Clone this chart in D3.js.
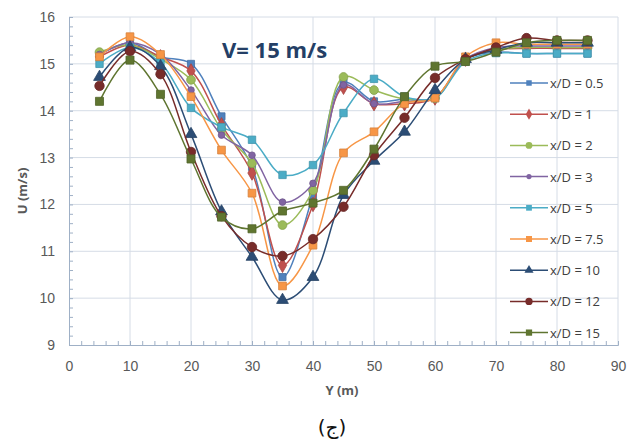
<!DOCTYPE html>
<html>
<head>
<meta charset="utf-8">
<script src="https://cdn.jsdelivr.net/npm/d3@7"></script>
<style>
	body { margin: 0; background: #fff; }
	svg { display: block; font-family: "Open Sans", "DejaVu Sans", sans-serif; }
</style>
</head>
<body>
<svg id="chart" width="629" height="445"></svg>
<script>
// distance across the channel (m)
var yPos = [5, 10, 15, 20, 25, 30, 35, 40, 45, 50, 55, 60, 65, 70, 75, 80, 85]

var seriesNames = ['x/D = 0.5', 'x/D = 1', 'x/D = 2', 'x/D = 3', 'x/D = 5',
	'x/D = 7.5', 'x/D = 10', 'x/D = 12', 'x/D = 15']

var u05 = [15.2, 15.45, 15.15, 15.0, 13.88, 12.8, 10.45, 12.2, 14.6, 14.2, 14.25, 14.27, 15.1, 15.25, 15.22, 15.22, 15.22]
var u1 = [15.15, 15.4, 15.15, 14.85, 13.7, 12.67, 10.7, 12.0, 14.5, 14.15, 14.15, 14.27, 15.1, 15.3, 15.33, 15.33, 15.33]
var u2 = [15.25, 15.4, 15.1, 14.66, 13.6, 12.88, 11.56, 12.3, 14.72, 14.44, 14.25, 14.27, 15.1, 15.3, 15.35, 15.35, 15.35]
var u3 = [15.2, 15.45, 15.2, 14.44, 13.48, 13.05, 12.05, 12.45, 14.55, 14.15, 14.2, 14.27, 15.1, 15.35, 15.38, 15.38, 15.38]
var u5 = [15.0, 15.35, 15.02, 14.06, 13.65, 13.38, 12.63, 12.84, 13.95, 14.68, 14.3, 14.27, 15.05, 15.23, 15.22, 15.22, 15.22]
var u75 = [15.15, 15.58, 15.2, 14.3, 13.16, 12.24, 10.26, 11.13, 13.1, 13.55, 14.15, 14.27, 15.15, 15.45, 15.42, 15.42, 15.42]
var u10 = [14.72, 15.35, 14.95, 13.5, 11.85, 10.88, 9.96, 10.45, 12.2, 12.93, 13.55, 14.44, 15.1, 15.3, 15.45, 15.45, 15.45]
var u12 = [14.53, 15.27, 14.78, 13.12, 11.75, 11.09, 10.9, 11.26, 11.95, 13.05, 13.85, 14.7, 15.1, 15.35, 15.55, 15.5, 15.5]
var u15 = [14.2, 15.08, 14.35, 12.97, 11.73, 11.48, 11.86, 12.03, 12.3, 13.18, 14.3, 14.95, 15.05, 15.25, 15.45, 15.5, 15.5]

var xTicks = [0, 10, 20, 30, 40, 50, 60, 70, 80, 90]
var yTicks = [9, 10, 11, 12, 13, 14, 15, 16]

var seriesValues = [u05, u1, u2, u3, u5, u75, u10, u12, u15]
var colors = ['#4F81BD', '#C0504D', '#9BBB59', '#8064A2', '#4BACC6', '#F79646', '#2C4D75', '#772C2A', '#5F7530']
var shapes = [d3.symbolSquare, d3.symbolDiamond, d3.symbolCircle, d3.symbolCircle, d3.symbolSquare,
	d3.symbolSquare, d3.symbolTriangle, d3.symbolCircle, d3.symbolSquare]
var sizes = [50, 60, 60, 35, 55, 60, 60, 70, 65]

var svg = d3.select('#chart')
var m = {left: 69, right: 11, top: 17, bottom: 100},
	w = 629 - m.left - m.right,
	h = 445 - m.top - m.bottom

var x = d3.scaleLinear().domain([0, 90]).range([0, w]),
	y = d3.scaleLinear().domain([9, 16]).range([h, 0])

var g = svg.append('g').attr('transform', 'translate(' + m.left + ',' + m.top + ')')

// grid
g.selectAll('.vgrid').data(xTicks.slice(1)).enter().append('line')
	.attr('x1', function(d) {return x(d)}).attr('x2', function(d) {return x(d)})
	.attr('y1', 0).attr('y2', h)
	.attr('stroke', '#d5dce6').attr('stroke-width', 1)
g.selectAll('.hgrid').data(yTicks.slice(1)).enter().append('line')
	.attr('x1', 0).attr('x2', w)
	.attr('y1', function(d) {return y(d)}).attr('y2', function(d) {return y(d)})
	.attr('stroke', '#d5dce6').attr('stroke-width', 1)

// axes, excel style: inside ticks, light lines
var xAxis = g.append('g').attr('transform', 'translate(0,' + h + ')')
	.call(d3.axisBottom(x).tickValues(d3.range(0, 90.1, 2)).tickSize(-4).tickFormat(''))
var xLab = g.append('g').attr('transform', 'translate(0,' + h + ')')
	.call(d3.axisBottom(x).tickValues(xTicks).tickSize(0).tickPadding(16).tickFormat(d3.format('d')))
var yAxis = g.append('g')
	.call(d3.axisLeft(y).tickValues(d3.range(9, 16.01, 0.2)).tickSize(-4).tickFormat(''))
var yLab = g.append('g')
	.call(d3.axisLeft(y).tickValues(yTicks).tickSize(0).tickPadding(14).tickFormat(d3.format('d')))

;[xAxis, yAxis, xLab, yLab].forEach(function(a) {
	a.selectAll('path, line').attr('stroke', '#9fb0c6')
	a.selectAll('text').attr('fill', '#595959').style('font-size', '14px')
	a.select('.domain').attr('stroke', '#9fb0c6')
})
xLab.select('.domain').remove()
yLab.select('.domain').remove()

// series
var line = d3.line()
	.x(function(d) {return x(d[0])})
	.y(function(d) {return y(d[1])})
	.curve(d3.curveCatmullRom.alpha(0.5))

seriesValues.forEach(function(vals, i) {
	var pts = yPos.map(function(p, j) {return [p, vals[j]]})
	g.append('path').datum(pts)
		.attr('fill', 'none')
		.attr('stroke', colors[i])
		.attr('stroke-width', 1.5)
		.attr('d', line)
	g.selectAll('.m' + i).data(pts).enter().append('path')
		.attr('transform', function(d) {return 'translate(' + x(d[0]) + ',' + y(d[1]) + ')'})
		.attr('d', d3.symbol().type(shapes[i]).size(sizes[i]))
		.attr('fill', colors[i])
		.attr('stroke', d3.color(colors[i]).darker(0.4))
		.attr('stroke-width', 0.8)
})

// legend
var leg = svg.append('g').attr('transform', 'translate(510,83)')
seriesNames.forEach(function(name, i) {
	var row = leg.append('g').attr('transform', 'translate(0,' + (i * 31.2) + ')')
	row.append('line').attr('x1', 0).attr('x2', 38).attr('y1', 0).attr('y2', 0)
		.attr('stroke', colors[i]).attr('stroke-width', 1.5)
	row.append('path').attr('transform', 'translate(19,0)')
		.attr('d', d3.symbol().type(shapes[i]).size(sizes[i] * 0.6))
		.attr('fill', colors[i])
	row.append('text').attr('x', 40).attr('y', 5)
		.attr('fill', '#404040').style('font-size', '13px').text(name)
})

// titles
svg.append('text').attr('x', 222).attr('y', 58)
	.attr('fill', '#243F66').style('font-size', '22px').style('font-weight', 'bold')
	.text('V= 15 m/s')
svg.append('text').attr('transform', 'translate(27,' + (m.top + 174) + ') rotate(-90)')
	.attr('text-anchor', 'middle')
	.attr('fill', '#595959').style('font-size', '13px').style('font-weight', 'bold')
	.text('U (m/s)')
svg.append('text').attr('x', 342).attr('y', 395)
	.attr('text-anchor', 'middle')
	.attr('fill', '#595959').style('font-size', '13px').style('font-weight', 'bold')
	.text('Y (m)')
svg.append('text').attr('x', 332).attr('y', 434)
	.attr('text-anchor', 'middle')
	.attr('fill', '#111').style('font-size', '20px').style('font-family', '"DejaVu Sans", sans-serif')
	.text('(ج)')
</script>
</body>
</html>
